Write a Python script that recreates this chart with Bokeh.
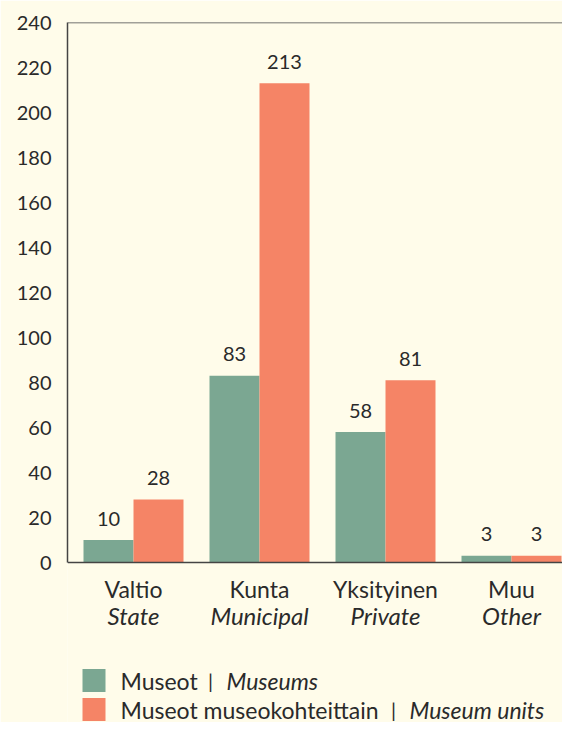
from bokeh.plotting import figure
from bokeh.models import Range1d, FixedTicker, Span
from bokeh.core.properties import value
from bokeh.embed import file_html
from bokeh.resources import INLINE

# ---- data ----
categories_fi = ["Valtio", "Kunta", "Yksityinen", "Muu"]
categories_en = ["State", "Municipal", "Private", "Other"]
museums = [10, 83, 58, 3]
museum_units = [28, 213, 81, 3]
y_ticks = [0, 20, 40, 60, 80, 100, 120, 140, 160, 180, 200, 220, 240]
legend_fi = ["Museot", "Museot museokohteittain"]
legend_en = ["Museums", "Museum units"]

# ---- style ----
BG = "#fffcea"
GREEN = "#7ba792"
ORANGE = "#f58466"
TEXT = "#2a2a2a"
AXIS = "#444444"
FONT = "Lato"

W, H = 562, 722
BL, BT = 67, 22            # borders -> frame left/top
PX_CAT = 126.0             # pixels per category
PX_VAL = 2.25              # pixels per value unit
FRAME_W = W - BL
FRAME_H = H - BT
X0 = 0.5 - (133 - BL) / PX_CAT
Y1 = 240.0
Y0 = Y1 - FRAME_H / PX_VAL


def xd(px):   # canvas x -> data x
    return X0 + (px - BL) / PX_CAT


def yd(py):   # canvas y -> data y
    return Y1 - (py - BT) / PX_VAL


p = figure(width=W, height=H, output_backend="svg", toolbar_location=None,
           x_range=Range1d(X0, X0 + FRAME_W / PX_CAT),
           y_range=Range1d(Y0, Y1),
           x_axis_location=None,
           min_border_left=BL, min_border_right=0,
           min_border_top=BT, min_border_bottom=0,
           background_fill_color=BG, border_fill_color=BG,
           outline_line_color=None)
p.xgrid.visible = False
p.ygrid.visible = False

ax = p.yaxis[0]
ax.ticker = FixedTicker(ticks=y_ticks)
ax.bounds = (0, 240)
ax.major_tick_line_color = None
ax.major_tick_out = 0
ax.major_tick_in = 0
ax.minor_tick_line_color = None
ax.major_label_standoff = 16
ax.axis_line_color = AXIS
ax.axis_line_width = 1.5
ax.major_label_text_font = FONT
ax.major_label_text_font_size = "20px"
ax.major_label_text_color = TEXT

p.add_layout(Span(location=240, dimension="width", line_color=AXIS, line_width=1.5))

centers = [i + 0.5 for i in range(len(categories_fi))]
bw = 50.0 / PX_CAT
xg = [c - bw / 2 for c in centers]
xo = [c + bw / 2 for c in centers]

p.vbar(x=xg, top=museums, width=bw, bottom=0, fill_color=GREEN, line_color=None)
p.vbar(x=xo, top=museum_units, width=bw, bottom=0, fill_color=ORANGE, line_color=None)

p.add_layout(Span(location=0, dimension="width", line_color=AXIS, line_width=1.5))

off = 21.5 / PX_VAL
common = dict(text_font=value(FONT), text_color=TEXT, text_baseline="middle")
p.text(x=xg, y=[v + off for v in museums], text=[str(v) for v in museums],
       text_font_size="20px", text_align="center", **common)
p.text(x=xo, y=[v + off for v in museum_units], text=[str(v) for v in museum_units],
       text_font_size="20px", text_align="center", **common)

p.text(x=centers, y=[yd(588)] * 4, text=categories_fi,
       text_font_size="23px", text_align="center", **common)
p.text(x=centers, y=[yd(615)] * 4, text=categories_en,
       text_font_size="24px", text_align="center", text_font_style="italic", **common)

# legend
rows_mid = [680, 709]
p.quad(left=[xd(82)] * 2, right=[xd(105)] * 2,
       top=[yd(m - 11.5) for m in rows_mid], bottom=[yd(m + 11.5) for m in rows_mid],
       fill_color=[GREEN, ORANGE], line_color=None)
p.text(x=[xd(120)] * 2, y=[yd(m) for m in rows_mid], text=legend_fi,
       text_font_size="23px", text_align="left", **common)
p.text(x=[xd(210), xd(393)], y=[yd(m) for m in rows_mid], text=["|", "|"],
       text_font_size="20px", text_align="center", **common)
p.text(x=[xd(226), xd(409)], y=[yd(m) for m in rows_mid], text=legend_en,
       text_font_size="23px", text_align="left", text_font_style="italic", **common)

open("out.html", "w").write(file_html(p, INLINE))
